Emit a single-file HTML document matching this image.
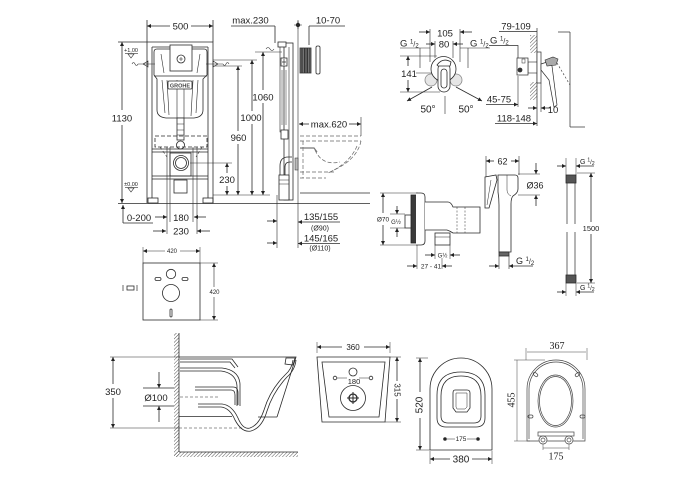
<!DOCTYPE html>
<html><head><meta charset="utf-8">
<style>
html,body{margin:0;padding:0;background:#fff;}
svg{display:block;}
text{font-family:"Liberation Sans",sans-serif;fill:#222;stroke:none;}
.s{font-family:"Liberation Serif",serif;}
</style></head><body>
<svg width="700" height="500" viewBox="0 0 700 500" xmlns="http://www.w3.org/2000/svg">
<defs>
<marker id="a" viewBox="0 0 10 10" refX="10" refY="5" markerWidth="5" markerHeight="4" orient="auto-start-reverse" markerUnits="userSpaceOnUse"><path d="M0,0 L10,5 L0,10 z" fill="#222"/></marker>
<pattern id="h" width="2.5" height="2.5" patternUnits="userSpaceOnUse" patternTransform="rotate(45)"><line x1="0" y1="0" x2="0" y2="2.5" stroke="#444" stroke-width="0.9"/></pattern>
<pattern id="v" width="1.6" height="4" patternUnits="userSpaceOnUse"><rect width="1.6" height="4" fill="#888"/><line x1="0.4" y1="0" x2="0.4" y2="4" stroke="#222" stroke-width="0.8"/></pattern>
</defs>
<rect width="700" height="500" fill="#fff"/>
<g fill="none" stroke="#2a2a2a" stroke-width="0.8">

<!-- ===== INSTALLATION FRAME FRONT ===== -->
<line x1="147" y1="20" x2="147" y2="42"/>
<line x1="213" y1="20" x2="213" y2="42"/>
<line x1="147" y1="26" x2="170" y2="26" marker-start="url(#a)"/>
<line x1="191" y1="26" x2="213" y2="26" marker-end="url(#a)"/>
<text x="180.5" y="29.5" font-size="9.5" text-anchor="middle">500</text>

<path d="M147,42 H213 V203 M147,42 V203"/>
<path d="M152,47 H208 M152,47 V198 M208,47 V198"/>
<path d="M157,49 H204 Q207,49 207,52 V75 L203,79 V110 Q203,117 194,118 H166 Q157,117 157,110 V79 L154,75 V52 Q154,49 157,49 Z" fill="#fff"/>
<line x1="154" y1="76" x2="207" y2="76"/>
<path d="M161,54 L164,73 M200,54 L197,73 M162,80 L165,113 M167,80 L169,115 M177,80 V118 M184,80 V118 M193,80 L191,116 M198,80 L196,113" stroke-width="0.6"/>
<rect x="170" y="45" width="22" height="26" fill="#fff"/>
<circle cx="181" cy="59" r="4"/>
<path d="M179,59 H183 M181,57 V61" stroke-width="0.6"/>
<rect x="168" y="81" width="24" height="8" rx="1" fill="#fff"/>
<text x="180" y="87.3" font-size="5.5" font-weight="bold" text-anchor="middle" style="fill:#444">GROHE</text>
<rect x="177" y="118" width="7" height="22" fill="#fff"/>
<path d="M177,124 H184 M177,130 H184 M177,135 H184" stroke-width="0.6"/>
<circle cx="180.5" cy="145" r="4" fill="#fff"/>
<rect x="155" y="136" width="52" height="11" stroke-dasharray="4,2"/>
<path d="M160,147 L167,157 M202,147 L196,157" stroke-dasharray="3,2" stroke-width="0.6"/>
<path d="M152,149 H208 M152,152 H208"/>
<rect x="170" y="153" width="21" height="23" fill="#fff"/>
<circle cx="181" cy="163" r="7.5"/>
<circle cx="181" cy="163" r="5.5"/>
<path d="M152,176 H208 M152,179 H208"/>
<rect x="174" y="180" width="13" height="13"/>
<rect x="148" y="198" width="10" height="5"/>
<rect x="203" y="198" width="10" height="5"/>
<path d="M167,147 V234 M170,147 V222 M193,147 V222 M197,147 V234" stroke-width="0.6"/>
<line x1="118" y1="203.5" x2="370" y2="203.5"/>

<line x1="118" y1="42" x2="147" y2="42"/>
<line x1="122" y1="42" x2="122" y2="110" marker-start="url(#a)"/>
<line x1="122" y1="125" x2="122" y2="203" marker-end="url(#a)"/>
<text x="122" y="121.5" font-size="9.5" text-anchor="middle">1130</text>
<text x="131" y="52" font-size="5.5" text-anchor="middle">+1,00</text>
<line x1="125" y1="53.5" x2="138" y2="53.5" stroke-width="0.6"/>
<path d="M128,54 L134,54 L131,58 Z" stroke-width="0.6"/>
<text x="131" y="186" font-size="5.5" text-anchor="middle">±0,00</text>
<line x1="125" y1="187.5" x2="138" y2="187.5" stroke-width="0.6"/>
<path d="M128,188 L134,188 L131,192 Z" stroke-width="0.6"/>
<path d="M132,64 q1.5,-3 3,0 t3,0 M138,64 H155 M148,61 L143,64 L148,67 Z" stroke-width="0.6"/>
<path d="M229,64 q-1.5,-3 -3,0 t-3,0 M223,64 H206 M213,61 L218,64 L213,67 Z" stroke-width="0.6"/>

<path d="M255,52 H282 M213,60 H257 M213,66 H242 M190,163 H232 M213,195 H270" stroke-width="0.6"/>
<path d="M266,49 q2,-3 4,0 t4,0" stroke-width="0.6"/>
<line x1="263" y1="52" x2="263" y2="90" marker-start="url(#a)"/>
<line x1="263" y1="103" x2="263" y2="195" marker-end="url(#a)"/>
<text x="263" y="100.5" font-size="9.5" text-anchor="middle">1060</text>
<line x1="252" y1="60" x2="252" y2="111" marker-start="url(#a)"/>
<line x1="252" y1="124" x2="252" y2="195" marker-end="url(#a)"/>
<text x="251" y="121" font-size="9.5" text-anchor="middle">1000</text>
<line x1="238" y1="66" x2="238" y2="131" marker-start="url(#a)"/>
<line x1="238" y1="144" x2="238" y2="195" marker-end="url(#a)"/>
<text x="238.5" y="141" font-size="9.5" text-anchor="middle">960</text>
<line x1="227" y1="163" x2="227" y2="173" marker-start="url(#a)"/>
<line x1="227" y1="186" x2="227" y2="195" marker-end="url(#a)"/>
<text x="227" y="183" font-size="9.5" text-anchor="middle">230</text>

<line x1="123" y1="205" x2="123" y2="223" marker-start="url(#a)"/>
<line x1="123" y1="223" x2="153" y2="223"/>
<text x="139" y="221" font-size="9.5" text-anchor="middle">0-200</text>
<line x1="155" y1="217" x2="167" y2="217" marker-end="url(#a)"/>
<line x1="206" y1="217" x2="194" y2="217" marker-end="url(#a)"/>
<text x="181" y="221" font-size="9.5" text-anchor="middle">180</text>
<line x1="153" y1="231" x2="166" y2="231" marker-end="url(#a)"/>
<line x1="210" y1="231" x2="197" y2="231" marker-end="url(#a)"/>
<text x="181" y="234.5" font-size="9.5" text-anchor="middle">230</text>

<!-- ===== SIDE VIEW ===== -->
<text x="250.5" y="23.5" font-size="9.5" text-anchor="middle">max.230</text>
<line x1="231" y1="26" x2="275" y2="26"/>
<line x1="275" y1="26" x2="275" y2="43"/>
<line x1="298" y1="20" x2="298" y2="248" stroke-width="0.6"/>
<circle cx="298" cy="25" r="1.8" fill="#222"/>
<path d="M294,25 H302 M298,21 V29" stroke-width="0.6"/>
<text x="328" y="23.5" font-size="9.5" text-anchor="middle">10-70</text>
<line x1="309" y1="26" x2="345" y2="26"/>
<line x1="309" y1="26" x2="309" y2="45"/>

<rect x="284" y="43" width="9" height="157" fill="#fff"/>
<rect x="278" y="42" width="8" height="5" fill="#fff"/>
<path d="M280,47 V132 H284 M289,47 V200" stroke-width="0.6"/>
<rect x="281" y="58" width="6" height="8" fill="#fff"/>
<path d="M282,62 H286 M284,59 V65" stroke-width="0.7"/>
<path d="M282,70 V125 M286,70 V125" stroke-width="0.5"/>
<rect x="281" y="130" width="7" height="9" fill="#fff"/>
<path d="M280,175 V166 Q280,157 288,157 H292 M285,175 V167 Q285,162 290,162 H292"/>
<rect x="279" y="175" width="10" height="25" fill="#fff"/>
<path d="M279,180 H289 M279,184 H289" stroke-width="0.6"/>
<rect x="295" y="158" width="3" height="12" fill="#bbb" stroke-width="0.5"/>

<rect x="300" y="48" width="11" height="25" fill="url(#v)" stroke="#333"/>
<rect x="316" y="46" width="4" height="28" rx="1.5"/>

<g stroke="#666" stroke-dasharray="4,2" stroke-width="0.7">
<path d="M300,136 H361 M300,141 H361"/>
<path d="M361,141 Q357,160 332,171"/>
<path d="M357,146 Q350,163 328,173"/>
<path d="M315,150 Q322,166 340,162"/>
<path d="M300,172 H334 M300,178 H326"/>
<path d="M303,141 V178"/>
</g>
<path d="M300,148 H314 L317,152" stroke="#777" stroke-width="1.2"/>
<line x1="309" y1="124" x2="299" y2="124" marker-end="url(#a)"/>
<line x1="349" y1="124" x2="361" y2="124" marker-end="url(#a)"/>
<line x1="361" y1="117" x2="361" y2="136" stroke-width="0.6"/>
<text x="329" y="127.5" font-size="9.5" text-anchor="middle">max.620</text>
<line x1="300" y1="193" x2="370" y2="193"/>

<line x1="277" y1="195" x2="277" y2="248" stroke-width="0.6"/>
<line x1="267" y1="221" x2="277" y2="221" marker-end="url(#a)"/>
<line x1="267" y1="243" x2="277" y2="243" marker-end="url(#a)"/>
<line x1="340" y1="222" x2="298" y2="222" marker-end="url(#a)"/>
<line x1="340" y1="243.5" x2="298" y2="243.5" marker-end="url(#a)"/>
<text x="321" y="220" font-size="9.5" text-anchor="middle">135/155</text>
<text x="320" y="230.5" font-size="7" text-anchor="middle">(Ø90)</text>
<text x="321" y="241.5" font-size="9.5" text-anchor="middle">145/165</text>
<text x="320" y="250.5" font-size="7" text-anchor="middle">(Ø110)</text>

<!-- ===== MIXER FRONT ===== -->
<line x1="430" y1="29" x2="430" y2="62" stroke-width="0.6"/>
<line x1="460" y1="29" x2="460" y2="62" stroke-width="0.6"/>
<line x1="419" y1="32" x2="430" y2="32" marker-end="url(#a)"/>
<line x1="472" y1="32" x2="460" y2="32" marker-end="url(#a)"/>
<text x="445" y="36.5" font-size="9.5" text-anchor="middle">105</text>
<line x1="435" y1="41" x2="435" y2="58" stroke-width="0.6"/>
<line x1="453" y1="41" x2="453" y2="58" stroke-width="0.6"/>
<line x1="426" y1="44" x2="435" y2="44" marker-end="url(#a)"/>
<line x1="463" y1="44" x2="453" y2="44" marker-end="url(#a)"/>
<text x="444" y="47.5" font-size="9.5" text-anchor="middle">80</text>
<text x="400" y="46.5" font-size="9.5">G <tspan font-size="6" dy="-3">1</tspan><tspan font-size="7" dy="3">/</tspan><tspan font-size="6" dy="1">2</tspan></text>
<path d="M400,48 H430 M420,48 V68" stroke-width="0.6"/>
<text x="470" y="46.5" font-size="9.5">G <tspan font-size="6" dy="-3">1</tspan><tspan font-size="7" dy="3">/</tspan><tspan font-size="6" dy="1">2</tspan></text>
<path d="M460,48 H490 M468,48 V68" stroke-width="0.6"/>
<path d="M400,56 H437 M400,92 H440 M416,73 H432" stroke-width="0.6"/>
<line x1="408" y1="66" x2="408" y2="56" marker-end="url(#a)"/>
<line x1="408" y1="80" x2="408" y2="92" marker-end="url(#a)"/>
<text x="409" y="77" font-size="9.5" text-anchor="middle">141</text>
<circle cx="431" cy="80" r="6" fill="#e6e6e6" stroke="#888"/>
<circle cx="456" cy="80" r="6" fill="#e6e6e6" stroke="#888"/>
<circle cx="443.5" cy="69" r="12.5" fill="#fff"/>
<rect x="438" y="63" width="12" height="29" rx="6" fill="#fff"/>
<rect x="441" y="69" width="6" height="19" rx="3"/>
<path d="M437,65 Q443,57 451,62 L450,66 H438 Z" fill="#fff"/>
<line x1="432" y1="87" x2="407" y2="101" marker-end="url(#a)"/>
<line x1="456" y1="87" x2="482" y2="101" marker-end="url(#a)"/>
<line x1="445" y1="96" x2="445" y2="114" stroke-width="0.6"/>
<text x="428" y="112.5" font-size="10" text-anchor="middle">50°</text>
<text x="466" y="112.5" font-size="10" text-anchor="middle">50°</text>

<!-- mixer side -->
<text x="516" y="29.5" font-size="9.5" text-anchor="middle">79-109</text>
<path d="M499,31.5 H537" stroke-width="0.7"/>
<text x="490" y="43.5" font-size="9.5">G <tspan font-size="6" dy="-3">1</tspan><tspan font-size="7" dy="3">/</tspan><tspan font-size="6" dy="1">2</tspan></text>
<path d="M489,45.5 H518 V58" stroke-width="0.7"/>
<rect x="530" y="35" width="7" height="18" fill="url(#h)" stroke="none"/>
<rect x="530" y="82" width="7" height="18" fill="url(#h)" stroke="none"/>
<line x1="537" y1="28" x2="537" y2="126" stroke-width="0.7"/>
<rect x="528" y="62" width="9" height="11" fill="#fff" stroke-width="0.6"/>
<rect x="517" y="58" width="11" height="17" fill="#fff" stroke-width="0.7"/>
<rect x="522" y="59" width="3" height="4" fill="#fff" stroke-width="0.5"/>
<circle cx="520" cy="70" r="2.4" fill="#333" stroke="none"/>
<rect x="537" y="52" width="4" height="31" fill="#fff" stroke-width="0.7"/>
<path d="M541,64 L547,62 L552,66 L557,105 L554,107 L549,80 L541,70 Z" fill="#fff" stroke-width="0.7"/>
<path d="M545,60 L553,57 L558,59 L556,65 L547,66 Z" fill="#aaa" stroke-width="0.6"/>
<path d="M557,63 L570,85" stroke-dasharray="2,2" stroke-width="0.6"/>
<line x1="570" y1="32" x2="570" y2="127" stroke-width="0.7"/>
<line x1="558" y1="32" x2="570" y2="32" stroke-width="0.7"/>
<line x1="585" y1="127" x2="570" y2="127" stroke-width="0.7"/>
<text x="499" y="102.5" font-size="9.5" text-anchor="middle">45-75</text>
<line x1="486" y1="104.5" x2="518" y2="104.5" marker-end="url(#a)"/>
<line x1="518" y1="76" x2="518" y2="107" stroke-width="0.6"/>
<line x1="541" y1="83" x2="541" y2="112" stroke-width="0.6"/>
<line x1="528" y1="108" x2="537" y2="108" marker-end="url(#a)"/>
<line x1="550" y1="108" x2="541" y2="108" marker-end="url(#a)"/>
<text x="553" y="113" font-size="9.5" text-anchor="middle">10</text>
<text x="514" y="121.5" font-size="9.5" text-anchor="middle">118-148</text>
<line x1="495" y1="123.5" x2="537" y2="123.5" marker-end="url(#a)"/>

<!-- ===== HYGIENIC SHOWER ===== -->
<path d="M380,193 H418 M380,245 H418" stroke-width="0.6"/>
<line x1="383" y1="213" x2="383" y2="193" marker-end="url(#a)"/>
<line x1="383" y1="225" x2="383" y2="245" marker-end="url(#a)"/>
<text x="383" y="221.5" font-size="6.5" text-anchor="middle">Ø70</text>
<rect x="405" y="215" width="7" height="13" fill="#fff"/>
<rect x="411" y="195" width="5.5" height="48" fill="#3a3a3a" stroke="#222"/>
<path d="M416,193 H421 Q425,193 425,197 V241 Q425,245 421,245 H416" fill="#fff"/>
<path d="M425,202 H448 Q451,202 453,207 H480 V233 H453 Q450,231 447,230 H425" fill="#fff"/>
<path d="M457,207 V233 M465,207 V233" stroke-dasharray="2,1.5" stroke-width="0.5"/>
<path d="M390,214 H405 M390,228 H405" stroke-width="0.5"/>
<line x1="397" y1="206" x2="397" y2="214" marker-end="url(#a)"/>
<line x1="397" y1="237" x2="397" y2="228" marker-end="url(#a)"/>
<text x="396" y="224" font-size="6" text-anchor="middle">G½</text>
<rect x="435" y="233" width="15" height="12" fill="#fff"/>
<line x1="435" y1="237" x2="450" y2="237" stroke-width="0.5"/>
<path d="M435,245 V259 M450,245 V259 M417,245 V269 M442,258 V269" stroke-width="0.5"/>
<line x1="425" y1="255" x2="435" y2="255" marker-end="url(#a)"/>
<line x1="460" y1="255" x2="450" y2="255" marker-end="url(#a)"/>
<text x="442.5" y="257.5" font-size="6" text-anchor="middle">G½</text>
<line x1="407" y1="266" x2="417" y2="266" marker-end="url(#a)"/>
<line x1="452" y1="266" x2="442" y2="266" marker-end="url(#a)"/>
<text x="431" y="268.5" font-size="6.5" text-anchor="middle">27 - 41</text>

<path d="M486,156 V180 M519,156 V175" stroke-width="0.6"/>
<line x1="494" y1="161" x2="486" y2="161" marker-end="url(#a)"/>
<line x1="511" y1="161" x2="519" y2="161" marker-end="url(#a)"/>
<text x="502.5" y="164.5" font-size="9" text-anchor="middle">62</text>
<path d="M498,175 H515 Q518,175 518,178 V189 Q518,193 513,196 Q511,198 511,204 V252 H499 V205 Q499,198 498,192 Z" fill="#fff"/>
<path d="M507,175 V190 Q507,194 511,196" stroke-width="0.5"/>
<rect x="499" y="252" width="10" height="4" fill="#666"/>
<path d="M485,177 L496,175 L497,180 L489,208 L485,208 Z" fill="#fff"/>
<line x1="491" y1="180" x2="487" y2="205" stroke-width="0.5"/>
<path d="M518,174 H540 M518,195 H540" stroke-width="0.6"/>
<line x1="536" y1="163" x2="536" y2="174" marker-end="url(#a)"/>
<line x1="536" y1="206" x2="536" y2="195" marker-end="url(#a)"/>
<text x="535" y="188.5" font-size="9" text-anchor="middle">Ø36</text>
<path d="M499,256 V269 M509,256 V269" stroke-width="0.6"/>
<line x1="489" y1="266" x2="499" y2="266" marker-end="url(#a)"/>
<line x1="533" y1="266" x2="509" y2="266" marker-end="url(#a)"/>
<text x="516" y="264" font-size="9">G <tspan font-size="6" dy="-3">1</tspan><tspan font-size="7" dy="3">/</tspan><tspan font-size="6" dy="1">2</tspan></text>

<path d="M567,183 V224 M575,183 V224 M567,232 V275 M575,232 V275" stroke-width="0.7"/>
<rect x="566" y="175" width="10" height="8" fill="#555"/>
<rect x="566" y="275" width="10" height="8" fill="#555"/>
<path d="M566,158 V175 M576,158 V175 M566,283 V296 M576,283 V296" stroke-width="0.5"/>
<line x1="557" y1="166" x2="566" y2="166" marker-end="url(#a)"/>
<line x1="594" y1="166" x2="576" y2="166" marker-end="url(#a)"/>
<text x="580" y="164" font-size="7">G <tspan font-size="5" dy="-2.5">1</tspan><tspan font-size="6" dy="2.5">/</tspan><tspan font-size="5" dy="1">2</tspan></text>
<line x1="557" y1="292" x2="566" y2="292" marker-end="url(#a)"/>
<line x1="594" y1="292" x2="576" y2="292" marker-end="url(#a)"/>
<text x="580" y="290" font-size="7">G <tspan font-size="5" dy="-2.5">1</tspan><tspan font-size="6" dy="2.5">/</tspan><tspan font-size="5" dy="1">2</tspan></text>
<path d="M577,173 H595 M577,283 H595" stroke-width="0.5"/>
<line x1="591" y1="222" x2="591" y2="173" marker-end="url(#a)"/>
<line x1="591" y1="234" x2="591" y2="283" marker-end="url(#a)"/>
<text x="591" y="231" font-size="7.5" text-anchor="middle">1500</text>

<!-- ===== ACOUSTIC MAT ===== -->
<path d="M143,247 V263 M200,247 V263" stroke-width="0.5"/>
<line x1="165" y1="251" x2="143" y2="251" marker-end="url(#a)" stroke-width="0.6"/>
<line x1="180" y1="251" x2="200" y2="251" marker-end="url(#a)" stroke-width="0.6"/>
<text x="172" y="253" font-size="6" text-anchor="middle">420</text>
<rect x="143" y="263" width="57" height="57"/>
<circle cx="171" cy="274" r="4.7"/>
<circle cx="171" cy="293" r="8.5"/>
<rect x="155" y="277.5" width="6" height="3" rx="1.5"/>
<rect x="182" y="277.5" width="6" height="3" rx="1.5"/>
<rect x="170" y="309" width="2" height="8" rx="1"/>
<path d="M200,263 H218 M200,320 H218" stroke-width="0.5"/>
<line x1="214" y1="287" x2="214" y2="263" marker-end="url(#a)" stroke-width="0.6"/>
<line x1="214" y1="297" x2="214" y2="320" marker-end="url(#a)" stroke-width="0.6"/>
<text x="214.5" y="294" font-size="6" text-anchor="middle">420</text>
<path d="M123,285 V291 M137,285 V291" stroke-width="0.7"/>
<rect x="127" y="286" width="7" height="4"/>

<!-- ===== TOILET SIDE ===== -->
<rect x="174" y="333" width="5" height="124" fill="url(#h)" stroke="none"/>
<line x1="179" y1="333" x2="179" y2="452"/>
<rect x="174" y="452" width="124" height="5" fill="url(#h)" stroke="none"/>
<line x1="179" y1="452" x2="298" y2="452"/>
<path d="M179,357 H296 L277,417 M179,416.5 H232 M258,417 H277"/>
<path d="M180,359 H232 L238,367 M180,362 H230 L235,368"/>
<path d="M180,368 H222 Q239,370 240,384 V406 M180,371 H221 Q236,373 237,386 V406"/>
<path d="M195,387 H233 Q238,387 238,393 V405 M195,390 H231 Q235,390 235,395 V405"/>
<path d="M198,404 H222 Q232,405 238,418 Q243,430 250,428 Q259,425 264,410 Q270,390 285,375 Q292,369 293,360"/>
<path d="M198,407 H221 Q230,408 235,420 Q242,433 251,431 Q262,428 267,411 Q273,392 287,377 Q295,370 296,360"/>
<path d="M286,358 L295,358 L293,365 L285,364 Z"/>
<path d="M110,357 H179 M110,428 H179" stroke-width="0.6"/>
<line x1="113" y1="384" x2="113" y2="357" marker-end="url(#a)"/>
<line x1="113" y1="398" x2="113" y2="428" marker-end="url(#a)"/>
<text x="113" y="395" font-size="9.5" text-anchor="middle">350</text>
<path d="M143,388 H174 M143,406 H174"/>
<line x1="159" y1="372" x2="159" y2="388" marker-end="url(#a)"/>
<line x1="159" y1="422" x2="159" y2="406" marker-end="url(#a)"/>
<text x="156" y="401" font-size="9.5" text-anchor="middle">Ø100</text>
<path d="M180,397 H220" stroke-dasharray="3,2" stroke-width="0.6"/>
<path d="M179,428 H243" stroke-dasharray="3,2" stroke-width="0.6"/>

<!-- ===== TOILET TOP ===== -->
<path d="M317,342 V353 M390,342 V353" stroke-width="0.5"/>
<line x1="342" y1="347" x2="317" y2="347" marker-end="url(#a)"/>
<line x1="364" y1="347" x2="390" y2="347" marker-end="url(#a)"/>
<text x="353" y="350" font-size="8" text-anchor="middle">360</text>
<path d="M317,357 H390 L385,422 H322 Z"/>
<path d="M322,362 H385 L379,417 H329 Z"/>
<circle cx="353" cy="372" r="4"/>
<circle cx="335" cy="378" r="1.8"/>
<circle cx="371" cy="378" r="1.8"/>
<path d="M337,378 H347 M359,378 H369" stroke-width="0.6"/>
<text x="354" y="384" font-size="7.5" text-anchor="middle">180</text>
<circle cx="353" cy="398" r="12.5"/>
<circle cx="353" cy="398" r="4" stroke-width="1.3"/>
<path d="M347,398 H359 M353,392 V404" stroke-width="1"/>
<path d="M390,357 H401 M385,422 H401" stroke-width="0.5"/>
<line x1="397" y1="381" x2="397" y2="357" marker-end="url(#a)"/>
<line x1="397" y1="399" x2="397" y2="422" marker-end="url(#a)"/>
<text x="397" y="390" font-size="8" text-anchor="middle" dominant-baseline="central" transform="rotate(90 397 390)">315</text>

<!-- ===== TOILET FRONT ===== -->
<path d="M430,450 V389 A31,31 0 0 1 492,389 V450 Z"/>
<path d="M437,395 Q437,372 461,372 Q485,372 485,395 V418 Q485,427 476,427 H446 Q437,427 437,418 Z"/>
<path d="M441,396 Q441,376 461,376 Q481,376 481,396 V416 Q481,423 474,423 H448 Q441,423 441,416 Z"/>
<path d="M455,390 H467 Q470,390 470,393 V408 L467,412 H456 L453,408 V393 Q453,390 455,390 Z"/>
<path d="M456,393 H467 V407 L465,409 H457 L456,407 Z" stroke-width="0.5"/>
<circle cx="445" cy="439" r="1.4" fill="#222"/>
<circle cx="478" cy="439" r="1.4" fill="#222"/>
<path d="M447,439 H455 M467,439 H476" stroke-width="0.6"/>
<text x="461" y="441" font-size="6.5" text-anchor="middle">175</text>
<path d="M416,358 H428 M416,450 H430" stroke-width="0.5"/>
<line x1="420" y1="392" x2="420" y2="358" marker-end="url(#a)"/>
<line x1="420" y1="418" x2="420" y2="450" marker-end="url(#a)"/>
<text x="420" y="405" font-size="10" text-anchor="middle" dominant-baseline="central" transform="rotate(-90 420 405)">520</text>
<path d="M430,451 V464 M492,451 V464" stroke-width="0.5"/>
<line x1="450" y1="459" x2="430" y2="459" marker-end="url(#a)"/>
<line x1="472" y1="459" x2="492" y2="459" marker-end="url(#a)"/>
<text x="461" y="462.5" font-size="10" text-anchor="middle">380</text>

<!-- ===== SEAT ===== -->
<g stroke="#444" stroke-width="0.7">
<path d="M527,441 V389 A29,29 0 0 1 585,389 V441 Z"/>
<path d="M529,439 V389 A27,27 0 0 1 583,389 V439"/>
<ellipse cx="555.5" cy="401" rx="17.5" ry="26"/>
<ellipse cx="555.5" cy="401" rx="16" ry="24.5"/>
<rect x="533" y="373" width="5" height="3" rx="1.5" transform="rotate(40 535.5 374.5)"/>
<rect x="575" y="373" width="5" height="3" rx="1.5" transform="rotate(-40 577.5 374.5)"/>
<rect x="528" y="415" width="5" height="3" rx="1.5"/>
<rect x="580" y="415" width="5" height="3" rx="1.5"/>
<rect x="538" y="432" width="36" height="4"/>
<circle cx="543" cy="440" r="4" fill="#fff"/>
<circle cx="543" cy="440" r="2"/>
<circle cx="569" cy="440" r="4" fill="#fff"/>
<circle cx="569" cy="440" r="2"/>
<path d="M543,444 V450 M569,444 V450 M543,448 H569" stroke-width="0.5"/>
<path d="M526,348 V360 M587,348 V360" stroke-width="0.5"/>
<line x1="527" y1="352" x2="586" y2="352" stroke-width="0.5"/>
<path d="M514,360 H545 M514,441 H530" stroke-width="0.5"/>
<line x1="517" y1="360" x2="517" y2="441" stroke-width="0.5"/>
</g>
<text class="s" x="557" y="349" font-size="10" text-anchor="middle">367</text>
<text class="s" x="512" y="400" font-size="10" text-anchor="middle" dominant-baseline="central" transform="rotate(-90 512 400)">455</text>
<text class="s" x="556" y="459.5" font-size="10" text-anchor="middle">175</text>

</g>
</svg>
</body></html>
